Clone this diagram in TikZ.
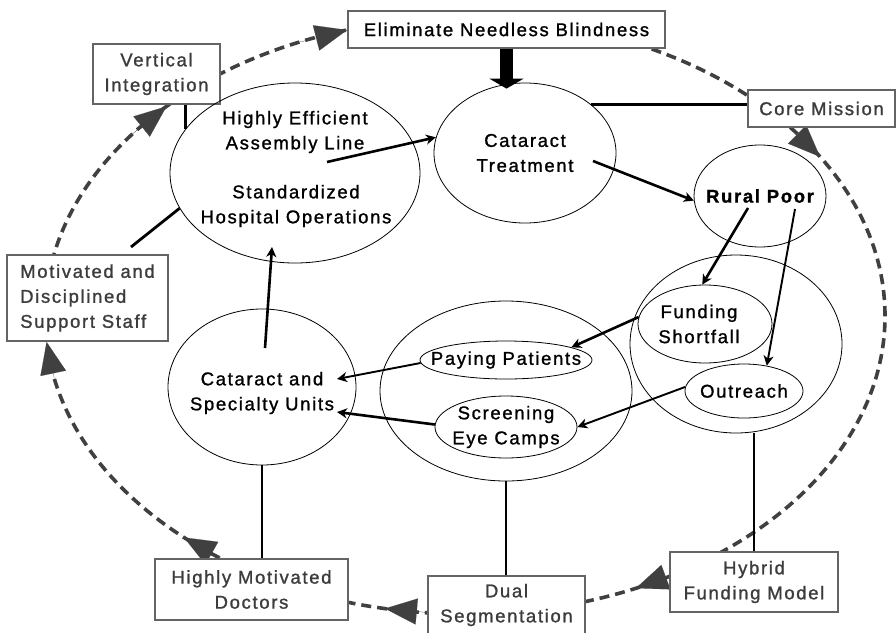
\documentclass[tikz,border=0pt]{standalone}
\usepackage{fontspec}
\setmainfont{Liberation Sans}[LetterSpace=9,FakeBold=1.2]
\usetikzlibrary{shapes.geometric,arrows.meta}
\definecolor{boxgray}{RGB}{100,100,100}
\definecolor{txtgray}{RGB}{60,60,60}
\definecolor{ringgray}{RGB}{64,64,64}
\newcommand{\ringpt}[1]{({465+420*cos(#1)},{316+298*sin(#1)})}

\begin{document}
\begin{tikzpicture}[x=1pt,y=-1pt]
                        \tikzstyle{every node}=[font=\fontsize{18.5}{25}\selectfont]
                        \tikzstyle{every label}=[align=center, text=black]
                        \tikzstyle{box}=[draw=boxgray, line width=1.2pt, fill=white, text=txtgray, align=center, inner sep=0pt]
                        \tikzstyle{oval}=[ellipse, draw, line width=0.8pt, inner sep=0pt]
                        \tikzstyle{ring}=[draw=ringgray, line width=3.6pt, dash pattern=on 10pt off 6pt]
                        \tikzstyle{ringtip}=[draw=ringgray, fill=ringgray, line width=0.1pt, -{Triangle[length=32pt,width=26pt]}]
                        \tikzstyle{link}=[line width=2.8pt]
                        \tikzstyle{flow}=[line width=2.6pt, -{Stealth[length=10pt,width=10pt,inset=3pt]}]
                        \useasboundingbox (0,0) rectangle (896,632);
                        \draw[ring] (465,316) ellipse [x radius=420pt, y radius=298pt];
                        \foreach \t in {253.7,224.7,175,132,101,66,327.7}
                            \draw[ringtip] \ringpt{\t-7} -- \ringpt{\t};
                        \node[box, text=black, minimum width=317, minimum height=37] (elim) at (506.5,29.5) {Eliminate Needless Blindness};
                        \node[box, minimum width=127, minimum height=60] (vint) at (156.5,74) {Vertical\\Integration};
                        \node[box, minimum width=147, minimum height=37] (core) at (821.5,108.5) {Core Mission};
                        \node[box, align=left, minimum width=161, minimum height=86] (staff) at (87.5,298) {Motivated and\\Disciplined\\Support Staff};
                        \node[box, minimum width=193, minimum height=61] (doctors) at (251.5,589.5) {Highly Motivated\\Doctors};
                        \node[box, minimum width=157, minimum height=58] (dual) at (506.5,605) {Dual\\Segmentation};
                        \node[box, minimum width=168, minimum height=60] (hybrid) at (754,582) {Hybrid\\Funding Model};
                        \node[oval, minimum width=250, minimum height=180] (hosp) at (295,173) {};
                        \node[align=center] (assembly) at (295,132) {Highly Efficient\\Assembly Line};
                        \node[align=center] (standard) at (296,206) {Standardized\\Hospital Operations};
                        \node[oval, minimum width=182, minimum height=140, label=center:{Cataract\\Treatment}] (cattreat) at (525,153) {};
                        \node[oval, minimum width=132, minimum height=102, label={[font=\fontsize{18.5}{25}\selectfont\bfseries]center:{Rural Poor}}] (rural) at (760,196) {};
                        \node[oval, minimum width=212, minimum height=178] (fundgroup) at (736,344) {};
                        \node[oval, minimum width=134, minimum height=78, label={[xshift=-6pt]center:{Funding\\Shortfall}}] (funding) at (705,324) {};
                        \node[oval, minimum width=118, minimum height=54, label=center:{Outreach}] (outreach) at (744,391) {};
                        \node[oval, minimum width=252, minimum height=180] (patients) at (506,391) {};
                        \node[oval, minimum width=172, minimum height=38, label=center:{Paying Patients}] (paying) at (506,360) {};
                        \node[oval, minimum width=142, minimum height=62, label=center:{Screening\\Eye Camps}] (camps) at (506,427) {};
                        \node[oval, minimum width=188, minimum height=156, label={[yshift=-6pt]center:{Cataract and\\Specialty Units}}] (units) at (262,387) {};
                        \coordinate (asmout) at (327,162);
                        \coordinate (catout) at (593,161);
                        \coordinate (ruralout1) at (748,208);
                        \coordinate (ruralout2) at (795,209);
                        \coordinate (unitsin1) at (337,379);
                        \coordinate (unitsin2) at (337,412);
                        \coordinate (unitsout) at (265,348);
                        \coordinate (hospin) at (272,247);
                        \coordinate (staffout) at (131,247);
                        \draw[line width=13pt, shorten >=-6pt, -{Triangle[length=10pt,width=34pt]}] (elim.south) -- (elim.south |- cattreat.north);
                        \draw[flow] (asmout) -- (cattreat.170);
                        \draw[flow] (catout) -- (rural.184);
                        \draw[flow] (ruralout1) -- (funding.94);
                        \draw[flow, line width=1.9pt] (ruralout2) -- (outreach.48);
                        \draw[flow] (funding.174) -- (paying.11);
                        \draw[flow, line width=1.9pt] (outreach.176) -- (camps.0);
                        \draw[flow, line width=1.9pt] (paying.182) -- (unitsin1);
                        \draw[flow] (camps.178) -- (unitsin2);
                        \draw[flow] (unitsout) -- (hospin);
                        \draw[link] (hosp.158 |- vint.south) -- (hosp.158);
                        \draw[link] (staffout) -- (hosp.197);
                        \draw[link] (units.south) -- (units.south |- doctors.north);
                        \draw[link] (patients.south) -- (patients.south |- dual.north);
                        \draw[link] (hybrid.north) -- (hybrid.north |- fundgroup.south);
                        \draw[link] (cattreat.36) -- (cattreat.36 -| core.west);
\end{tikzpicture}
\end{document}
